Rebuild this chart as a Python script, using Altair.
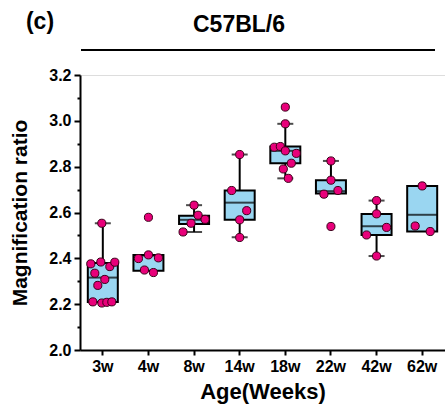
import altair as alt
import pandas as pd
import numpy as np

groups = ["3w", "4w", "8w", "14w", "18w", "22w", "42w", "62w"]

# box statistics
q1 = [2.210, 2.346, 2.550, 2.568, 2.815, 2.683, 2.502, 2.517]
med = [2.316, 2.412, 2.568, 2.643, 2.869, 2.693, 2.540, 2.590]
q3 = [2.380, 2.415, 2.586, 2.696, 2.888, 2.741, 2.594, 2.716]
whisk_lo = [np.nan, np.nan, 2.515, 2.492, 2.749, np.nan, 2.410, np.nan]
whisk_hi = [2.553, np.nan, 2.632, 2.853, 2.987, 2.825, 2.652, np.nan]

# individual points (value, horizontal jitter)
pts_3w = [2.553, 2.376, 2.384, 2.364, 2.383, 2.335, 2.308, 2.282, 2.210, 2.205, 2.208, 2.210]
jit_3w = [-1, -12, -2, 7, 12, -8, 2, -5, -10, -1, 4, 9]
pts_4w = [2.579, 2.399, 2.415, 2.402, 2.349, 2.338]
jit_4w = [0, -10, 0, 10, -4, 5]
pts_8w = [2.632, 2.588, 2.570, 2.553, 2.515]
jit_8w = [0, 4, 11, -3, -11]
pts_14w = [2.853, 2.696, 2.608, 2.568, 2.491]
jit_14w = [0, -8, 7, 0, 0]
pts_18w = [3.060, 2.987, 2.885, 2.888, 2.869, 2.858, 2.815, 2.790, 2.749]
jit_18w = [0, 0, -11, -5, 0, 11, 6, -2, 3]
pts_22w = [2.825, 2.741, 2.680, 2.696, 2.539]
jit_22w = [0, 0, -7, 7, 0]
pts_42w = [2.652, 2.594, 2.535, 2.502, 2.410]
jit_42w = [0, 0, 10, -10, 0]
pts_62w = [2.716, 2.541, 2.517]
jit_62w = [0, -7, 8]

all_pts = [pts_3w, pts_4w, pts_8w, pts_14w, pts_18w, pts_22w, pts_42w, pts_62w]
all_jit = [jit_3w, jit_4w, jit_8w, jit_14w, jit_18w, jit_22w, jit_42w, jit_62w]

box_df = pd.DataFrame({"group": groups, "q1": q1, "med": med, "q3": q3,
                       "lo": whisk_lo, "hi": whisk_hi})
rows = []
for g, vals, js in zip(groups, all_pts, all_jit):
    for v, j in zip(vals, js):
        rows.append({"group": g, "value": v, "jit": j})
pts_df = pd.DataFrame(rows)

lo_df = box_df.dropna(subset=["lo"])
hi_df = box_df.dropna(subset=["hi"])

W, H = 365, 275
FONT = "Liberation Sans"
BOX_FILL = "#9AD6F1"
PT_FILL = "#E8007A"

xenc = alt.X("group:N", sort=groups,
             scale=alt.Scale(paddingInner=0, paddingOuter=0),
             axis=alt.Axis(title="Age(Weeks)", labelAngle=0, labelFontSize=16,
                           labelFont=FONT, labelFontWeight="bold", labelColor="black",
                           titleFontSize=22, titleFont=FONT, titleFontWeight="bold",
                           titleColor="black", titlePadding=7,
                           domainColor="black", domainWidth=2, tickColor="black",
                           tickWidth=2, tickSize=5, labelPadding=3))
yscale = alt.Scale(domain=[2.0, 3.2], nice=False, zero=False)
yaxis = alt.Axis(title="Magnification ratio",
                 values=[round(2.0 + 0.1 * i, 1) for i in range(13)],
                 labelExpr="round(datum.value*10) % 2 == 0 ? format(datum.value, '.1f') : ''",
                 labelFontSize=16, labelFont=FONT, labelFontWeight="bold",
                 labelColor="black", titleFontSize=21, titleFont=FONT,
                 titleFontWeight="bold", titleColor="black", titlePadding=18,
                 domainColor="black", domainWidth=2, tickColor="black", tickWidth=2,
                 tickSize={"condition": {"test": "round(datum.value*10) % 2 == 0", "value": 6}, "value": 3},
                 labelPadding=3, grid=False)

base_box = alt.Chart(box_df)

whisk_hi_rule = alt.Chart(hi_df).mark_rule(color="black", strokeWidth=2).encode(
    x=xenc, y=alt.Y("q3:Q", scale=yscale, axis=yaxis), y2="hi:Q")
whisk_lo_rule = alt.Chart(lo_df).mark_rule(color="black", strokeWidth=2).encode(
    x=xenc, y=alt.Y("lo:Q", scale=yscale, axis=yaxis), y2="q1:Q")
boxes = base_box.mark_bar(size=30, fill=BOX_FILL, stroke="black", strokeWidth=2).encode(
    x=xenc, y=alt.Y("q1:Q", scale=yscale, axis=yaxis), y2="q3:Q")
medians = base_box.mark_tick(size=30, thickness=2, color="black").encode(
    x=xenc, y=alt.Y("med:Q", scale=yscale, axis=yaxis))
caps_hi = alt.Chart(hi_df).mark_tick(size=16, thickness=2, color="black").encode(
    x=xenc, y=alt.Y("hi:Q", scale=yscale, axis=yaxis))
caps_lo = alt.Chart(lo_df).mark_tick(size=16, thickness=2, color="black").encode(
    x=xenc, y=alt.Y("lo:Q", scale=yscale, axis=yaxis))
points = alt.Chart(pts_df).mark_point(filled=True, size=66, fill=PT_FILL, fillOpacity=1,
                                      stroke="#3a0018", strokeWidth=1).encode(
    x=xenc,
    xOffset=alt.XOffset("jit:Q", scale=alt.Scale(domain=[-W / 16, W / 16], range=[0, W / 8])),
    y=alt.Y("value:Q", scale=yscale, axis=yaxis))

deco = pd.DataFrame({"t": ["C57BL/6"]})
title_txt = alt.Chart(deco).mark_text(font=FONT, fontWeight="bold", fontSize=23,
                                      color="black", align="center", baseline="middle").encode(
    text="t:N", x=alt.value(159), y=alt.value(-50))
panel_txt = alt.Chart(pd.DataFrame({"t": ["(c)"]})).mark_text(
    font=FONT, fontWeight="bold", fontSize=23, color="black", align="center",
    baseline="middle").encode(text="t:N", x=alt.value(-40), y=alt.value(-53))
line = alt.Chart(deco).mark_rule(color="black", strokeWidth=2).encode(
    x=alt.value(1), x2=alt.value(355), y=alt.value(-25))

chart = alt.layer(whisk_hi_rule, whisk_lo_rule, boxes, medians, caps_hi, caps_lo,
                  points, title_txt, panel_txt, line).properties(
    width=W, height=H,
    autosize=alt.AutoSizeParams(type="none"),
    padding={"left": 80, "top": 75, "right": 0, "bottom": 58},
).configure_view(stroke=None).configure(background="white")

chart.save("out.html", embed_options={"renderer": "svg", "actions": False})
